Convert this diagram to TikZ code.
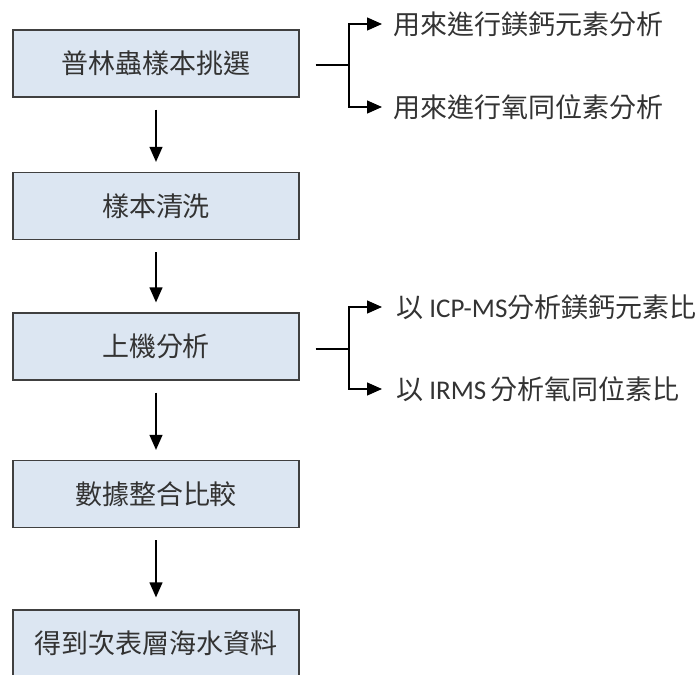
\documentclass[tikz,border=0pt]{standalone}
\usepackage{fontspec}
\setmainfont{Carlito}
\newfontfamily\cjk{Noto Sans CJK TC}
\usetikzlibrary{arrows.meta}

\begin{document}
\begin{tikzpicture}[x=1pt,y=-1pt,
		stepbox/.style={draw=black!75,line width=1.3pt,fill=boxblue,minimum width=286pt,minimum height=67pt,inner sep=0pt,text=black!80,font=\cjk\fontsize{27}{31}\selectfont},
		sidetext/.style={anchor=west,inner sep=0pt,text=black!80,font=\fontsize{27}{31}\selectfont},
		flow/.style={line width=1.3pt,-{Triangle[length=15pt,width=13pt]}},
		branch/.style={line width=1.3pt}]
	\definecolor{boxblue}{HTML}{DCE6F2}
	\useasboundingbox (0,0) rectangle (697,675);

	\node[stepbox] (pick) at (156,63.5) {普林蟲樣本挑選}; % step 1
	\node[stepbox] (wash) at (156,206) {樣本清洗}; % step 2
	\node[stepbox] (run) at (156,346.5) {上機分析}; % step 3
	\node[stepbox] (merge) at (156,494) {數據整合比較}; % step 4
	\node[stepbox] (result) at (156,643.5) {得到次表層海水資料}; % step 5

	\draw[flow,shorten <=12pt,shorten >=10pt] (pick) -- (wash);
	\draw[flow,shorten <=12pt,shorten >=10pt] (wash) -- (run);
	\draw[flow,shorten <=12pt,shorten >=10pt] (run) -- (merge);
	\draw[flow,shorten <=12pt,shorten >=12pt] (merge) -- (result);

	% branch of step 1
	\node[sidetext] (mgca) at (393,24) {\cjk 用來進行鎂鈣元素分析};
	\node[sidetext] (oxy) at (393,107) {\cjk 用來進行氧同位素分析};
	\coordinate (fork1) at (349,65);
	\draw[branch] ([xshift=16pt]pick.east |- fork1) -- (fork1);
	\draw[flow,shorten >=11pt] (fork1) |- (mgca.west);
	\draw[flow,shorten >=11pt] (fork1) |- (oxy.west);

	% branch of step 3
	\node[sidetext] (icp) at (396,307) {{\cjk 以} ICP-MS{\cjk 分析鎂鈣元素比}};
	\node[sidetext] (irms) at (396,389) {{\cjk 以} IRMS\,{\cjk 分析氧同位素比}};
	\coordinate (fork3) at (349,349);
	\draw[branch] ([xshift=16pt]run.east |- fork3) -- (fork3);
	\draw[flow,shorten >=14pt] (fork3) |- (icp.west);
	\draw[flow,shorten >=14pt] (fork3) |- (irms.west);
\end{tikzpicture}
\end{document}
